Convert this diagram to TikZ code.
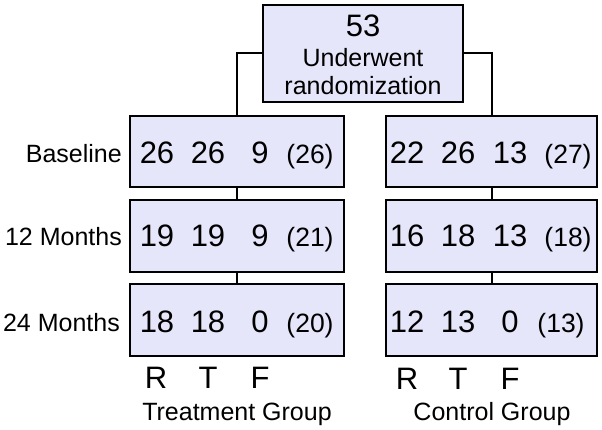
\documentclass[tikz,border=0pt]{standalone}
\usepackage{fontspec}
\setmainfont{Liberation Sans}
\definecolor{boxfill}{HTML}{E6E6FA}
\begin{document}
\begin{tikzpicture}[x=1pt,y=-1pt,
  box/.style={draw=black, line width=2pt, fill=boxfill, inner sep=0pt},
  num/.style={anchor=base, inner sep=0pt, font=\fontsize{31}{33}\selectfont},
  par/.style={anchor=base, inner sep=0pt, font=\fontsize{26.5}{28}\selectfont},
  lab/.style={anchor=base east, inner sep=0pt, font=\fontsize{25}{27}\selectfont},
  captxt/.style={anchor=base, inner sep=0pt, font=\fontsize{25}{27}\selectfont},
  conn/.style={line width=2pt}]
\useasboundingbox (0,0) rectangle (602,430);
% top box
\node[box, minimum width=200pt, minimum height=97pt] (top) at (363,53.5) {};
\node[num] (n53) at (363,37) {53};
\node[captxt] (und) at (363,67) {Underwent};
\node[captxt] (rnd) at (363,95) {randomization};
% left boxes
\node[box, minimum width=214pt, minimum height=71pt] (l1) at (237,151.5) {};
\node[box, minimum width=214pt, minimum height=72pt] (l2) at (237,236) {};
\node[box, minimum width=214pt, minimum height=72pt] (l3) at (237,320) {};
% right boxes
\node[box, minimum width=211pt, minimum height=71pt] (r1) at (491.5,151.5) {};
\node[box, minimum width=211pt, minimum height=72pt] (r2) at (491.5,236) {};
\node[box, minimum width=211pt, minimum height=72pt] (r3) at (491.5,320) {};
% connectors
\draw[conn] (top.west) -| (l1.north);
\draw[conn] (top.east) -| (r1.north);
\draw[conn] (l1.south) -- (l2.north);
\draw[conn] (l2.south) -- (l3.north);
\draw[conn] (r1.south) -- (r2.north);
\draw[conn] (r2.south) -- (r3.north);
% row labels
\node[lab] (lb1) at (122,163) {Baseline};
\node[lab] (lb2) at (122,246) {12 Months};
\node[lab] (lb3) at (120,331) {24 Months};
% left numbers
\node[num] (a11) at (157,164) {26};
\node[num] (a12) at (208,164) {26};
\node[num] (a13) at (260,164) {9};
\node[par] (a14) at (310,164) {(26)};
\node[num] (a21) at (157,247) {19};
\node[num] (a22) at (208,247) {19};
\node[num] (a23) at (260,247) {9};
\node[par] (a24) at (310,247) {(21)};
\node[num] (a31) at (157,332) {18};
\node[num] (a32) at (208,332) {18};
\node[num] (a33) at (260,332) {0};
\node[par] (a34) at (310,332) {(20)};
% right numbers
\node[num] (b11) at (407,164) {22};
\node[num] (b12) at (458,164) {26};
\node[num] (b13) at (510,164) {13};
\node[par] (b14) at (568,164) {(27)};
\node[num] (b21) at (407,247) {16};
\node[num] (b22) at (458,247) {18};
\node[num] (b23) at (510,247) {13};
\node[par] (b24) at (568,247) {(18)};
\node[num] (b31) at (407,332) {12};
\node[num] (b32) at (458,332) {13};
\node[num] (b33) at (510,332) {0};
\node[par] (b34) at (561,332) {(13)};
% R T F
\node[num] (lr) at (156,388) {R};
\node[num] (lt) at (208,388) {T};
\node[num] (lf) at (260,388) {F};
\node[num] (rr) at (407,389) {R};
\node[num] (rt) at (458,389) {T};
\node[num] (rf) at (510,389) {F};
\node[captxt] (tg) at (237,420) {Treatment Group};
\node[captxt] (cg) at (492,420) {Control Group};
\end{tikzpicture}
\end{document}
